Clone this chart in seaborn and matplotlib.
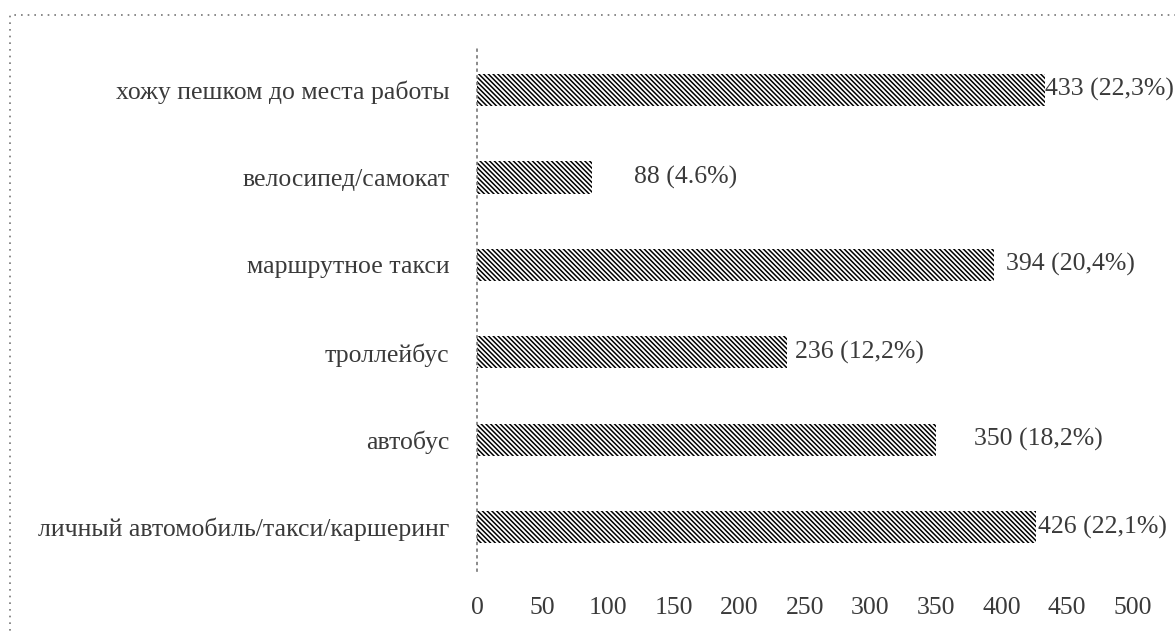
import pandas as pd
import matplotlib.pyplot as plt
import matplotlib.patches as mpatches
import seaborn as sns

# data
categories = [
    'хожу пешком до места работы',
    'велосипед/самокат',
    'маршрутное такси',
    'троллейбус',
    'автобус',
    'личный автомобиль/такси/каршеринг',
]
counts = [433, 88, 394, 236, 350, 426]
shares = ['22,3%', '4.6%', '20,4%', '12,2%', '18,2%', '22,1%']
x_ticks = [0, 50, 100, 150, 200, 250, 300, 350, 400, 450, 500]

# label gap after bar end (points), as placed in the original
label_gap = [0, 30, 9, 6, 27, 2]

df = pd.DataFrame({'category': categories, 'count': counts})

sns.set_style('white')
plt.rcParams['font.family'] = ['Liberation Serif', 'DejaVu Serif']
plt.rcParams['hatch.linewidth'] = 1.1
text_color = '#3a3a3a'
fs = 18.5

fig = plt.figure(figsize=(11.75, 6.33), dpi=100)
ax = fig.add_axes([0.406, 0.098, 0.558, 0.829])

sns.barplot(data=df, x='count', y='category', orient='h', order=categories,
            color='white', edgecolor='black', linewidth=0, hatch='\\' * 7,
            width=0.37, ax=ax)

for i, (v, s) in enumerate(zip(counts, shares)):
    ax.annotate(f'{v} ({s})', xy=(v, i), xytext=(label_gap[i], 0),
                textcoords='offset points', ha='left', va='center',
                fontsize=fs, color=text_color)

ax.set_xlim(0, 500)
ax.set_xticks(x_ticks)
ax.set_xlabel('')
ax.set_ylabel('')
ax.tick_params(axis='x', length=0, pad=19, labelsize=fs, labelcolor=text_color)
ax.tick_params(axis='y', length=0, pad=20, labelsize=fs, labelcolor=text_color)

for side in ['top', 'right', 'bottom']:
    ax.spines[side].set_visible(False)
ax.spines['left'].set_linestyle((0, (1, 3)))
ax.spines['left'].set_color('#777777')
ax.spines['left'].set_linewidth(1.2)

# dotted frame round the whole chart
border = mpatches.Rectangle((10 / 1175, -0.05), 1.1, 1 - 15 / 633 + 0.05,
                            transform=fig.transFigure, fill=False,
                            edgecolor='#777777', linewidth=1.2,
                            linestyle=(0, (1, 3)), clip_on=False)
fig.patches.append(border)

fig.savefig('out.png', dpi=100)
